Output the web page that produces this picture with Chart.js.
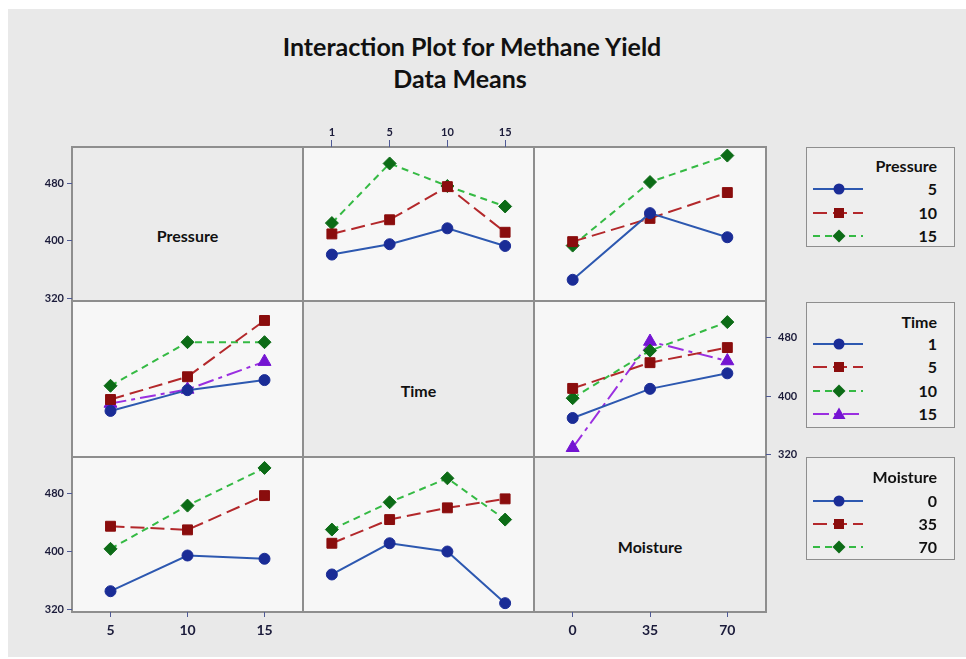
<!DOCTYPE html>
<html>
<head>
<meta charset="utf-8">
<title>Interaction Plot for Methane Yield</title>
<script src="https://cdn.jsdelivr.net/npm/chart.js@4.4.1/dist/chart.umd.min.js"></script>
<style>
  body { margin: 0; width: 966px; height: 659px; background: #fff; position: relative; overflow: hidden;
         font-family: Lato, "Open Sans", sans-serif; }
  #frame { position: absolute; left: 8px; top: 9px; width: 958px; height: 648px; background: #e9e9e9; }
  .title { position: absolute; font-weight: bold; font-size: 25px; color: #111; white-space: nowrap;
           transform: translateX(-50%); line-height: 28px; }
  .panel { position: absolute; box-sizing: border-box; border: 2px solid #8e8e8e; }
  .data { background: #f7f7f7; }
  .diag { background: #ebebeb; display: flex; align-items: center; justify-content: center;
          font-weight: bold; font-size: 16px; color: #111; padding-top: 23px; }
  canvas { position: absolute; }
  .legend { position: absolute; box-sizing: border-box; border: 1.5px solid #8e8e8e; background: #eeeeee; }
  .legend .lt { position: absolute; right: 17px; font-weight: bold; font-size: 16px; color: #111; line-height: 18px; }
  .legend svg { position: absolute; left: 6px; }
</style>
</head>
<body>
<div id="frame"></div>
<div class="title" style="left:472px; top:32px;">Interaction Plot for Methane Yield</div>
<div class="title" style="left:460px; top:64px;">Data Means</div>
<script>
// factor levels (category ticks)
const pressureLevels = ['5', '10', '15'];
const timeLevels = ['1', '5', '10', '15'];
const moistureLevels = ['0', '35', '70'];
const yTicks = [320, 400, 480];
const yMin = 316.5;
const yMax = 530.5;

// Pressure lines, x = Time
const pTime5 = [381.0, 395.4, 417.5, 393.0];
const pTime10 = [409.7, 429.4, 475.4, 412.0];
const pTime15 = [424.8, 507.6, 476.3, 447.9];
// Pressure lines, x = Moisture
const pMoist5 = [346.0, 438.6, 405.1];
const pMoist10 = [399.0, 431.3, 467.2];
const pMoist15 = [393.5, 481.8, 518.6];
// Time lines, x = Pressure
const tPress1 = [379.7, 408.2, 422.0];
const tPress5 = [395.4, 426.6, 503.8];
const tPress10 = [414.2, 474.0, 474.0];
const tPress15 = [389.9, 409.2, 447.3];
// Time lines, x = Moisture
const tMoist1 = [370.0, 410.0, 431.3];
const tMoist5 = [410.6, 445.9, 466.6];
const tMoist10 = [397.2, 462.4, 501.6];
const tMoist15 = [329.2, 474.9, 448.2];
// Moisture lines, x = Pressure
const mPress0 = [345.2, 394.5, 390.0];
const mPress35 = [434.9, 429.9, 477.2];
const mPress70 = [403.7, 463.4, 515.4];
// Moisture lines, x = Time
const mTime0 = [368.3, 411.4, 400.0, 328.7];
const mTime35 = [411.4, 444.1, 460.3, 472.7];
const mTime70 = [430.3, 468.0, 501.1, 444.1];

// line style per level index
const styles = [
  { line: '#2d58b0', mark: '#1a2c96', shape: 'circle', r: 5.5, dash: [] },
  { line: '#b3282b', mark: '#8a0d0d', shape: 'rect', r: 7, dash: [14, 6] },
  { line: '#35ba44', mark: '#0c6b16', shape: 'rectRot', r: 6.5, dash: [7, 5] },
  { line: '#9a2fe0', mark: '#7414d2', shape: 'triangle', r: 7.5, dash: [16, 5, 4, 5] },
];

const colEdges = [72, 303, 534, 766];
const rowEdges = [147, 301, 457, 612];
const M = 50;
const tickColor = '#4f5a96';
const labelColor = '#1b1b3a';

function panelBox(col, row, cls, text) {
  const x0 = colEdges[col], x1 = colEdges[col + 1];
  const y0 = rowEdges[row], y1 = rowEdges[row + 1];
  const d = document.createElement('div');
  d.className = 'panel ' + cls;
  d.style.left = (x0 - 1) + 'px';
  d.style.top = (y0 - 1) + 'px';
  d.style.width = (x1 - x0 + 2) + 'px';
  d.style.height = (y1 - y0 + 2) + 'px';
  if (text) d.textContent = text;
  document.body.appendChild(d);
}

function panelChart(col, row, labels, series, axes) {
  const x0 = colEdges[col], x1 = colEdges[col + 1];
  const y0 = rowEdges[row], y1 = rowEdges[row + 1];
  const cv = document.createElement('canvas');
  cv.width = x1 - x0 + 2 * M;
  cv.height = y1 - y0 + 2 * M;
  cv.style.left = (x0 - M) + 'px';
  cv.style.top = (y0 - M) + 'px';
  document.body.appendChild(cv);

  const xs = {
    type: 'category',
    offset: true,
    position: axes.x || 'bottom',
    display: !!axes.x,
    border: { display: false },
    grid: { drawOnChartArea: false, offset: false, color: tickColor, tickLength: axes.x === 'top' ? 7 : 5 },
    ticks: {
      color: labelColor, maxRotation: 0, autoSkip: false,
      padding: axes.x === 'top' ? 1 : 5,
      font: { family: 'Lato', weight: 'bold', size: axes.x === 'top' ? 11 : 14 },
    },
  };
  if (axes.x) xs.afterFit = (s) => { s.height = M; };

  const ys = {
    type: 'linear',
    min: yMin,
    max: yMax,
    position: axes.y || 'left',
    display: !!axes.y,
    border: { display: false },
    afterBuildTicks: (s) => { s.ticks = yTicks.map((v) => ({ value: v })); },
    grid: { drawOnChartArea: false, color: tickColor, tickLength: 5 },
    ticks: {
      color: labelColor,
      padding: axes.y === 'right' ? 7 : 3,
      font: { family: 'Lato', weight: 'bold', size: 11 },
    },
  };
  if (axes.y) ys.afterFit = (s) => { s.width = M; };

  new Chart(cv, {
    type: 'line',
    data: {
      labels: labels,
      datasets: series.map((vals, i) => ({
        data: vals,
        borderColor: styles[i].line,
        borderWidth: 2,
        borderDash: styles[i].dash,
        pointStyle: styles[i].shape,
        pointRadius: styles[i].r,
        pointBackgroundColor: styles[i].mark,
        pointBorderColor: styles[i].mark,
        pointBorderWidth: 1,
        tension: 0,
      })),
    },
    options: {
      responsive: false,
      animation: false,
      layout: {
        padding: {
          left: axes.y === 'left' ? 0 : M,
          right: axes.y === 'right' ? 0 : M,
          top: axes.x === 'top' ? 0 : M,
          bottom: axes.x === 'bottom' ? 0 : M,
        },
      },
      plugins: { legend: { display: false }, tooltip: { enabled: false } },
      scales: { x: xs, y: ys },
    },
  });
}

// panel backgrounds and borders
panelBox(0, 0, 'diag', 'Pressure');
panelBox(1, 1, 'diag', 'Time');
panelBox(2, 2, 'diag', 'Moisture');
[[1, 0], [2, 0], [0, 1], [2, 1], [0, 2], [1, 2]].forEach(([c, r]) => panelBox(c, r, 'data'));

// axes on the diagonal cells
panelChart(0, 0, pressureLevels, [], { y: 'left' });
panelChart(2, 2, moistureLevels, [], { x: 'bottom' });

// interaction panels
panelChart(1, 0, timeLevels, [pTime5, pTime10, pTime15], { x: 'top' });
panelChart(2, 0, moistureLevels, [pMoist5, pMoist10, pMoist15], {});
panelChart(0, 1, pressureLevels, [tPress1, tPress5, tPress10, tPress15], {});
panelChart(2, 1, moistureLevels, [tMoist1, tMoist5, tMoist10, tMoist15], { y: 'right' });
panelChart(0, 2, pressureLevels, [mPress0, mPress35, mPress70], { x: 'bottom', y: 'left' });
panelChart(1, 2, timeLevels, [mTime0, mTime35, mTime70], {});

// legend boxes
function sampleSvg(st) {
  const dash = st.dash.length ? st.dash.join(' ') : 'none';
  let marker;
  if (st.shape === 'circle') marker = `<circle cx="26" cy="8" r="5.5" fill="${st.mark}"/>`;
  else if (st.shape === 'rect') marker = `<rect x="21" y="3" width="10" height="10" fill="${st.mark}"/>`;
  else if (st.shape === 'rectRot') marker = `<polygon points="26,1.5 32.5,8 26,14.5 19.5,8" fill="${st.mark}"/>`;
  else marker = `<polygon points="26,1.5 32.5,13 19.5,13" fill="${st.mark}"/>`;
  return `<svg width="52" height="16"><line x1="0" y1="8" x2="50" y2="8" stroke="${st.line}" stroke-width="2" stroke-dasharray="${dash}"/>${marker}</svg>`;
}

function legend(top, height, title, levels, titleY, rowYs) {
  const box = document.createElement('div');
  box.className = 'legend';
  box.style.left = '806px';
  box.style.top = top + 'px';
  box.style.width = '149px';
  box.style.height = height + 'px';
  let html = `<div class="lt" style="top:${titleY - top - 9}px">${title}</div>`;
  levels.forEach((lv, i) => {
    html += `<div style="position:absolute; top:${rowYs[i] - top - 8}px; left:0; width:100%; height:16px;">` +
      sampleSvg(styles[i]) + `</div>` +
      `<div class="lt" style="top:${rowYs[i] - top - 9}px">${lv}</div>`;
  });
  box.innerHTML = html;
  document.body.appendChild(box);
}

legend(147, 100, 'Pressure', pressureLevels, 165, [188, 212, 235]);
legend(302, 126, 'Time', timeLevels, 321, [343, 366, 390, 413]);
legend(457, 103, 'Moisture', moistureLevels, 476, [500, 523, 546]);
</script>
</body>
</html>
